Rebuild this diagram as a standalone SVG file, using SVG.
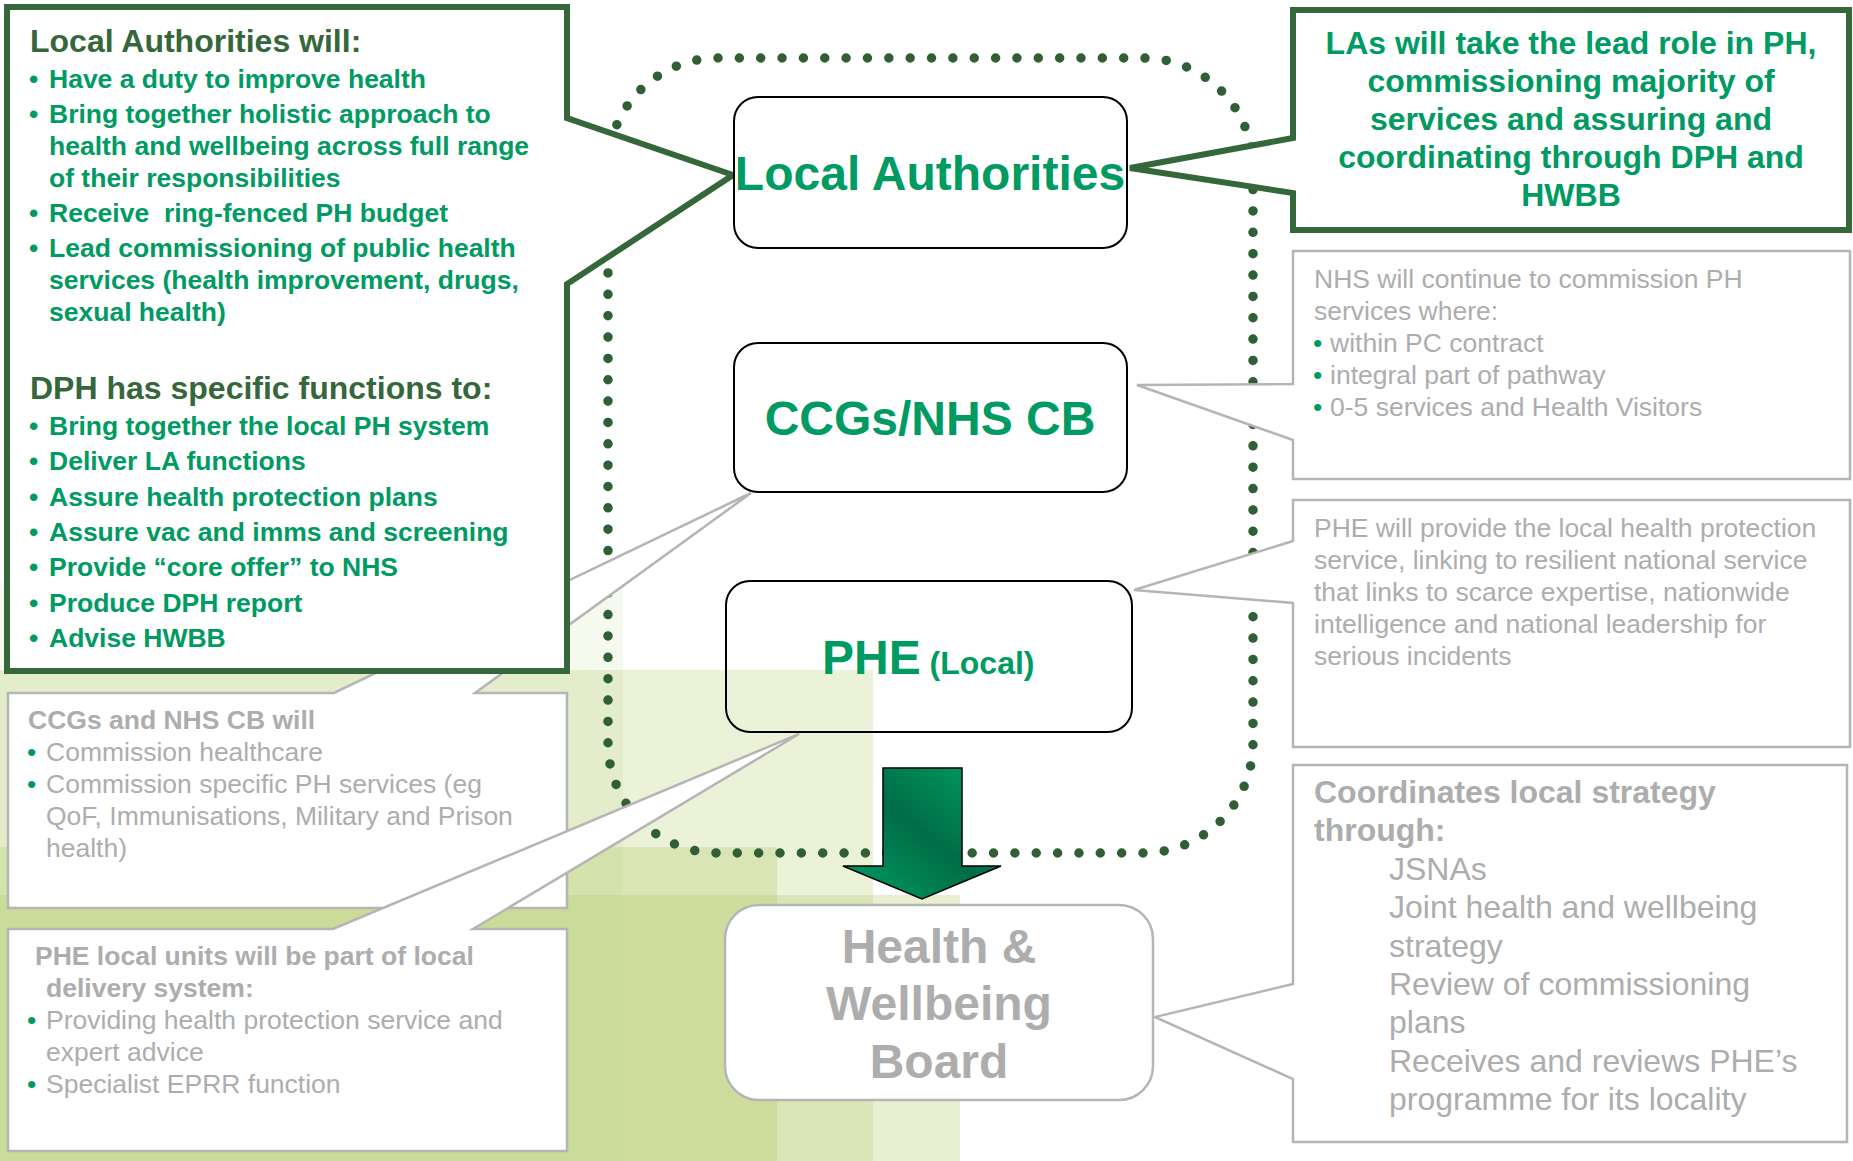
<svg xmlns="http://www.w3.org/2000/svg" width="1853" height="1161" viewBox="0 0 1853 1161">
<style>
text { font-family: "Liberation Sans", Arial, Helvetica, sans-serif; }
.b { font-weight: bold; }
.grn { fill: #009a63; }
.dk { fill: #35673b; }
.gry { fill: #adadad; }
.s26 { font-size: 26.5px; }
.s32 { font-size: 32px; }
.s48 { font-size: 48px; }
.bg { fill: #b8cf72; }
.callG { fill: #ffffff; stroke: #b5b5b5; stroke-width: 2.5; stroke-linejoin: miter; }
.callD { fill: #ffffff; stroke: #35673b; stroke-width: 6; stroke-linejoin: miter; }
.node { stroke: #000000; stroke-width: 2; }
.mid { text-anchor: middle; }
</style>
<defs>
<linearGradient id="arrowGrad" x1="1" y1="0" x2="0" y2="1">
<stop offset="0" stop-color="#00a068"/>
<stop offset="0.5" stop-color="#006d47"/>
<stop offset="1" stop-color="#00a068"/>
</linearGradient>
</defs>
<rect width="1853" height="1161" fill="#ffffff"/>
<g id="background">
<rect class="bg" x="0" y="583" width="623" height="578" opacity="0.12"/>
<rect class="bg" x="0" y="670" width="873" height="491" opacity="0.28"/>
<rect class="bg" x="0" y="847" width="777" height="314" opacity="0.35"/>
<rect class="bg" x="0" y="895" width="960" height="266" opacity="0.33"/>
</g>
<g id="connectors">
<path id="dotted-boundary" d="M718,58 H1143 A110,110 0 0 1 1253,168 V743 A110,110 0 0 1 1143,853 H718 A110,110 0 0 1 608,743 V168 A110,110 0 0 1 718,58 Z" fill="none" stroke="#305f36" stroke-width="9.5" stroke-linecap="round" pathLength="126" stroke-dasharray="0 1"/>
</g>
<g id="ccg-left-callout">
<path class="callG" d="M8,693 H334 L751,493 L475,693 H567 V908 H8 Z"/>
<text class="b gry s26" x="28" y="729">CCGs and NHS CB will</text>
<text class="grn s26" x="27" y="761">•</text><text class="gry s26" x="46" y="761">Commission healthcare</text>
<text class="grn s26" x="27" y="793">•</text><text class="gry s26" x="46" y="793">Commission specific PH services (eg</text>
<text class="gry s26" x="46" y="825">QoF, Immunisations, Military and Prison</text>
<text class="gry s26" x="46" y="857">health)</text>
</g>
<g id="phe-left-callout">
<path class="callG" d="M8,929 H333 L799,734 L473,929 H567 V1151 H8 Z"/>
<text class="b gry s26" x="35" y="965">PHE local units will be part of local</text>
<text class="b gry s26" x="46" y="997">delivery system:</text>
<text class="grn s26" x="27" y="1029">•</text><text class="gry s26" x="46" y="1029">Providing health protection service and</text>
<text class="gry s26" x="46" y="1061">expert advice</text>
<text class="grn s26" x="27" y="1093">•</text><text class="gry s26" x="46" y="1093">Specialist EPRR function</text>
</g>
<g id="nhs-right-callout">
<path class="callG" d="M1293,251 H1850 V479 H1293 V440 L1137,385 L1293,384 Z"/>
<text class="gry s26" x="1314" y="288">NHS will continue to commission PH</text>
<text class="gry s26" x="1314" y="320">services where:</text>
<text class="grn s26" x="1313" y="352">•</text><text class="gry s26" x="1330" y="352">within PC contract</text>
<text class="grn s26" x="1313" y="384">•</text><text class="gry s26" x="1330" y="384">integral part of pathway</text>
<text class="grn s26" x="1313" y="416">•</text><text class="gry s26" x="1330" y="416">0-5 services and Health Visitors</text>
</g>
<g id="phe-right-callout">
<path class="callG" d="M1293,500 H1850 V747 H1293 V603 L1134,590 L1293,541 Z"/>
<text class="gry s26" x="1314" y="537">PHE will provide the local health protection</text>
<text class="gry s26" x="1314" y="569">service, linking to resilient national service</text>
<text class="gry s26" x="1314" y="601">that links to scarce expertise, nationwide</text>
<text class="gry s26" x="1314" y="633">intelligence and national leadership for</text>
<text class="gry s26" x="1314" y="665">serious incidents</text>
</g>
<g id="hwb-right-callout">
<path class="callG" d="M1293,765 H1847 V1142 H1293 V1079 L1155,1017 L1293,984 Z"/>
<text class="b gry s32" x="1314" y="803">Coordinates local strategy</text>
<text class="b gry s32" x="1314" y="841">through:</text>
<text class="gry s32" x="1389" y="880">JSNAs</text>
<text class="gry s32" x="1389" y="918">Joint health and wellbeing</text>
<text class="gry s32" x="1389" y="957">strategy</text>
<text class="gry s32" x="1389" y="995">Review of commissioning</text>
<text class="gry s32" x="1389" y="1033">plans</text>
<text class="gry s32" x="1389" y="1072">Receives and reviews PHE’s</text>
<text class="gry s32" x="1389" y="1110">programme for its locality</text>
</g>
<g id="la-left-callout">
<path class="callD" d="M7,7 H567 V118 L733,175 L567,284 V671 H7 Z"/>
<text class="b dk s32" x="30" y="52">Local Authorities will:</text>
<text class="b grn s26" x="29" y="88">•</text><text class="b grn s26" x="49" y="88">Have a duty to improve health</text>
<text class="b grn s26" x="29" y="123">•</text><text class="b grn s26" x="49" y="123">Bring together holistic approach to</text>
<text class="b grn s26" x="49" y="155">health and wellbeing across full range</text>
<text class="b grn s26" x="49" y="187">of their responsibilities</text>
<text class="b grn s26" x="29" y="222">•</text><text class="b grn s26" x="49" y="222" xml:space="preserve">Receive  ring-fenced PH budget</text>
<text class="b grn s26" x="29" y="257">•</text><text class="b grn s26" x="49" y="257">Lead commissioning of public health</text>
<text class="b grn s26" x="49" y="289">services (health improvement, drugs,</text>
<text class="b grn s26" x="49" y="321">sexual health)</text>
<text class="b dk s32" x="30" y="399">DPH has specific functions to:</text>
<text class="b grn s26" x="29" y="435">•</text><text class="b grn s26" x="49" y="435">Bring together the local PH system</text>
<text class="b grn s26" x="29" y="470">•</text><text class="b grn s26" x="49" y="470">Deliver LA functions</text>
<text class="b grn s26" x="29" y="506">•</text><text class="b grn s26" x="49" y="506">Assure health protection plans</text>
<text class="b grn s26" x="29" y="541">•</text><text class="b grn s26" x="49" y="541">Assure vac and imms and screening</text>
<text class="b grn s26" x="29" y="576">•</text><text class="b grn s26" x="49" y="576">Provide “core offer” to NHS</text>
<text class="b grn s26" x="29" y="612">•</text><text class="b grn s26" x="49" y="612">Produce DPH report</text>
<text class="b grn s26" x="29" y="647">•</text><text class="b grn s26" x="49" y="647">Advise HWBB</text>
</g>
<g id="la-right-callout">
<path class="callD" d="M1293,10 H1849 V230 H1293 V193 L1130,168 L1293,138 Z"/>
<text class="b grn s32 mid" x="1571" y="54">LAs will take the lead role in PH,</text>
<text class="b grn s32 mid" x="1571" y="92">commissioning majority of</text>
<text class="b grn s32 mid" x="1571" y="130">services and assuring and</text>
<text class="b grn s32 mid" x="1571" y="168">coordinating through DPH and</text>
<text class="b grn s32 mid" x="1571" y="206">HWBB</text>
</g>
<g id="node-local-authorities">
<rect class="node" x="734" y="97" width="393" height="151" rx="24" fill="#ffffff"/>
<text class="b grn s48 mid" x="930" y="190">Local Authorities</text>
</g>
<g id="node-ccgs">
<rect class="node" x="734" y="343" width="393" height="149" rx="24" fill="#ffffff"/>
<text class="b grn s48 mid" x="930" y="435">CCGs/NHS CB</text>
</g>
<g id="node-phe">
<rect class="node" x="726" y="581" width="406" height="151" rx="24" fill="none"/>
<text class="b grn" x="822" y="674"><tspan font-size="48">PHE</tspan><tspan font-size="32"> (Local)</tspan></text>
</g>
<g id="node-hwb">
<rect x="725" y="905" width="428" height="195" rx="34" fill="#ffffff" stroke="#b5b5b5" stroke-width="2.5"/>
<text class="b gry s48 mid" x="939" y="963">Health &amp;</text>
<text class="b gry s48 mid" x="939" y="1020">Wellbeing</text>
<text class="b gry s48 mid" x="939" y="1078">Board</text>
</g>
<g id="arrow">
<polygon points="883,768 962,768 962,866 1001,866 922,899 843,866 883,866" fill="url(#arrowGrad)" stroke="#000000" stroke-width="1.5" stroke-linejoin="miter"/>
</g>
</svg>
